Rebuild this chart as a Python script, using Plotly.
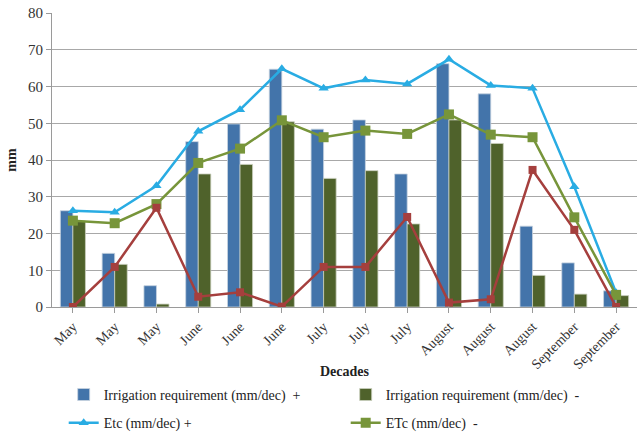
import plotly.graph_objects as go

decades = ["May", "May", "May", "June", "June", "June", "July", "July", "July",
           "August", "August", "August", "September", "September"]
irr_plus = [26.2, 14.6, 5.8, 45.0, 49.8, 64.7, 48.4, 50.9, 36.2, 66.2, 58.0, 22.0, 12.0, 4.4]
irr_minus = [23.4, 11.6, 0.8, 36.2, 38.8, 50.4, 35.0, 37.1, 22.6, 50.9, 44.5, 8.6, 3.5, 3.1]
etc_plus = [26.2, 25.8, 33.0, 47.8, 53.7, 64.8, 59.5, 61.8, 60.7, 67.4, 60.3, 59.5, 32.7, 3.9]
etc_minus = [23.5, 22.8, 28.0, 39.2, 43.1, 50.8, 46.2, 48.0, 47.1, 52.4, 46.9, 46.2, 24.4, 3.3]
eff_rain = [0.0, 10.9, 27.0, 2.8, 4.0, 0.1, 10.9, 10.9, 24.5, 1.2, 2.1, 37.3, 21.0, 0.0]

x = list(range(len(decades)))
serif = "Liberation Serif"
txt = "#222222"

fig = go.Figure()
fig.add_trace(go.Bar(x=x, y=irr_plus, name="Irrigation requirement (mm/dec)  +", legend="legend",
                     marker=dict(color="#4374AA", line=dict(color="#C8D3E0", width=0.8))))
fig.add_trace(go.Bar(x=x, y=irr_minus, name="Irrigation requirement (mm/dec)  -", legend="legend",
                     marker=dict(color="#4F622B", line=dict(color="#C9CFBE", width=0.8))))
fig.add_trace(go.Scatter(x=x, y=etc_plus, name="Etc (mm/dec) +", mode="lines+markers", legend="legend2",
                         line=dict(color="#29ACE3", width=2.5),
                         marker=dict(symbol="triangle-up", size=9, color="#29ACE3")))
fig.add_trace(go.Scatter(x=x, y=etc_minus, name="ETc (mm/dec)  -", mode="lines+markers", legend="legend2",
                         line=dict(color="#77953A", width=2.5),
                         marker=dict(symbol="square", size=10, color="#77953A")))
fig.add_trace(go.Scatter(x=x, y=eff_rain, name="rain", mode="lines+markers", showlegend=False,
                         line=dict(color="#A53F3D", width=2.5),
                         marker=dict(symbol="square", size=8, color="#A53F3D")))

legend_style = dict(orientation="h", x=0.02, xanchor="left", yanchor="middle",
                    entrywidth=237, entrywidthmode="pixels",
                    font=dict(family=serif, size=14, color=txt),
                    tracegroupgap=0, itemwidth=30, bgcolor="rgba(0,0,0,0)")

fig.update_layout(
    width=637, height=432,
    margin=dict(l=52, r=0, t=13, b=125, autoexpand=False),
    paper_bgcolor="white", plot_bgcolor="white",
    barmode="group", bargap=0.4, bargroupgap=0,
    font=dict(family=serif, size=12, color="#333333"),
    legend=dict(legend_style, y=-0.299),
    legend2=dict(legend_style, y=-0.395),
    showlegend=True,
    annotations=[dict(text="<b>Decades</b>", xref="paper", yref="paper", x=0.5, y=-0.221,
                      xanchor="center", yanchor="middle", showarrow=False,
                      font=dict(family=serif, size=14, color=txt))],
)
fig.update_xaxes(
    tickmode="array", tickvals=x, ticktext=decades, tickangle=-45,
    range=[-0.5, len(decades) - 0.5],
    showline=True, linecolor="#9A9A9A", linewidth=1,
    ticks="outside", ticklen=5, tickcolor="#9A9A9A",
    showgrid=False,
    tickfont=dict(family=serif, size=14, color="#333333"),
)
fig.update_yaxes(
    range=[0, 80], dtick=10,
    showline=True, linecolor="#9A9A9A", linewidth=1,
    ticks="outside", ticklen=5, tickcolor="#9A9A9A",
    showgrid=True, gridcolor="#A8A8A8", gridwidth=1,
    zeroline=False,
    tickfont=dict(family=serif, size=15, color="#333333"),
    title=dict(text="<b>mm</b>", font=dict(family=serif, size=14, color=txt), standoff=8),
)

fig.write_html("out.html")
